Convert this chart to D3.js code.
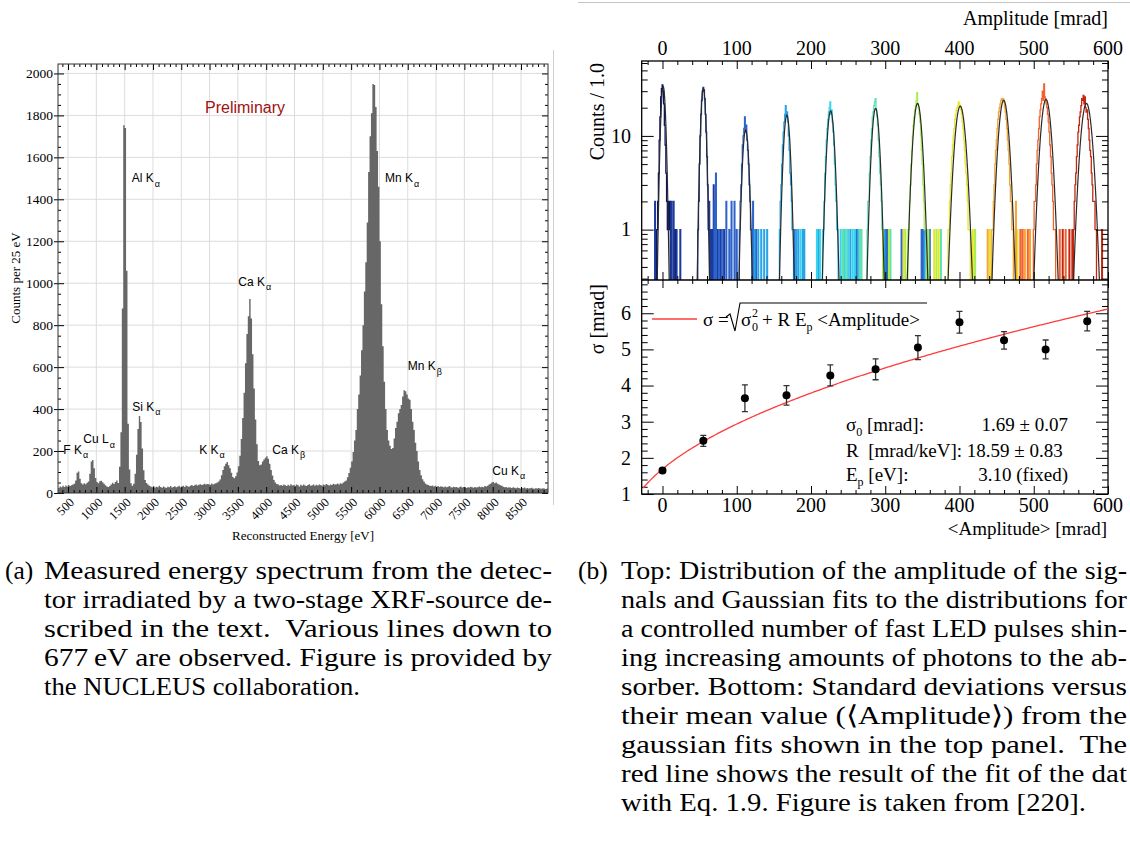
<!DOCTYPE html>
<html lang="en">
<head>
<meta charset="UTF-8">
<title>XRF spectrum and LED amplitude calibration</title>
<style>
  body { margin: 0; background: #fff; }
  svg text { font-family: "Liberation Serif", "Times New Roman", serif; fill: #000; }
  svg .sans { font-family: "Liberation Sans", Arial, sans-serif; }
  .tick line { stroke: #000; }
</style>
</head>
<body>
<script src="https://cdnjs.cloudflare.com/ajax/libs/d3/7.8.5/d3.min.js"></script>
<script>
// ---------------- (a) XRF spectrum data, counts per 25 eV bin ----------------
const binStart = 325;
const binWidth = 25;
const counts = [
  24, 31, 27, 35, 29, 36, 31, 38, 33, 37, 41,            // 325-575
  44, 60, 96, 102, 68, 47,                               // F Ka
  40, 46, 42, 49, 55,
  92, 150, 157, 118, 72, 52,                             // Cu La
  46, 56, 58, 51, 44, 37, 31, 29, 33, 41, 49, 43, 52, 60, 48,
  125, 290, 880, 1753, 1740, 1060, 330, 112, 46, 34, 44, // Al Ka
  92, 182, 305, 367, 338, 212, 108, 62, 48, 40,          // Si Ka
  35, 31, 28, 33, 26, 30, 27, 34, 29, 25, 31, 28, 24, 30, 27, 33, 26, 29, 32, 27,
  30, 35, 28, 31, 34, 29, 36, 32, 30, 35, 38, 33, 37, 40, 36, 39, 42, 38, 41, 44, 40, 43,
  42, 39, 45, 41, 44, 47, 50, 55, 64,
  85, 110, 128, 140, 148, 132, 118, 96, 76, 70,          // K Ka
  80, 98, 128, 178, 258, 358, 478, 618, 758, 842,        // Ca Ka
  925, 832, 662, 498, 350, 232, 152, 132, 136, 150,
  160, 168, 175, 163, 140, 110, 84, 62, 50, 43,          // Ca Kb
  40, 36, 38, 34, 41, 37, 33, 39, 35, 42, 36, 38, 34, 40, 37, 31, 39, 35, 41, 36,
  33, 38, 42, 35, 37, 40, 34, 39, 36, 41, 38, 35, 40, 37, 43, 39, 36, 41, 38, 44,
  40, 42, 45, 41, 47, 44, 50, 55,
  60, 75, 95, 120, 150, 195, 250, 300, 400, 470,         // Mn Ka
  560, 680, 800, 960, 1100, 1290, 1530, 1700, 1810, 1950,
  1945, 1840, 1630, 1460, 1200, 900, 700, 530, 400, 300,
  250, 225, 210, 215, 260, 310, 340, 380, 400, 420,      // Mn Kb
  460, 490, 485, 470, 450, 445, 400, 340, 300, 240,
  200, 150, 110, 85, 65, 55, 45, 40,
  38, 35, 33, 36, 31, 34, 30, 33, 29, 32, 30, 28, 31, 27, 30, 33, 28, 26, 30, 27,
  29, 25, 28, 31, 26, 29, 27, 24, 28, 26, 30, 27, 25, 29, 26, 28, 31, 27, 30, 28, 33, 31,
  35, 40, 44, 50, 52, 47, 50, 44, 40, 37, 34,            // Cu Ka
  30, 27, 29, 25, 28, 26, 24, 27, 25, 23, 26, 24, 22, 25, 23, 26, 22, 24, 21, 23,
  25, 22, 20, 23, 21, 24, 22, 20, 23, 21, 19, 22
];
const energyTicks = d3.range(500, 9000, 500);
const countTicks = d3.range(0, 2001, 200);

// line annotations: name, subscript, anchor energy [eV], anchor counts
const lineName = ['Al K', 'Mn K', 'Ca K', 'Si K', 'F K', 'Cu L', 'K K', 'Ca K', 'Mn K', 'Cu K'];
const lineSub  = ['α', 'α', 'α', 'α', 'α', 'α', 'α', 'β', 'β', 'α'];
const lineE    = [1624, 6098, 3507, 1635, 417, 770, 2818, 4108, 6499, 7993];
const lineC    = [1482, 1482, 987, 391, 186, 238, 186, 186, 586, 86];

// ---------------- (b) LED amplitude data ----------------
const ampTicks = d3.range(0, 601, 100);
const palette = ['#0c1466', '#1b3a9c', '#2e63c9', '#27a3e6', '#38d3ec', '#5ee2b0',
                 '#a7ef4c', '#e6e62a', '#f5a532', '#f2622e', '#c6260e'];
const peakStart = [-7, 48, 104, 158, 216, 276, 331, 385, 444, 500, 554];
const peakCounts = [
  [1, 2, 4, 9, 16, 26, 32, 35, 30, 22, 13, 8, 4, 2, 1, 2, 1],
  [1, 2, 5, 10, 17, 24, 30, 33, 31, 25, 17, 11, 6, 3, 1],
  [1, 2, 3, 5, 8, 10, 12, 16, 11, 13, 9, 7, 5, 3, 2, 1, 1],
  [1, 2, 3, 5, 8, 11, 14, 17, 21, 16, 18, 14, 10, 7, 4, 3, 2, 1, 1],
  [1, 1, 2, 4, 6, 9, 12, 15, 18, 20, 23, 17, 19, 14, 11, 8, 5, 3, 2, 1, 1],
  [1, 2, 2, 4, 6, 9, 12, 16, 18, 21, 23, 25, 19, 16, 13, 9, 6, 4, 3, 2, 1],
  [1, 1, 2, 3, 5, 7, 10, 13, 16, 19, 21, 24, 29, 22, 20, 17, 14, 10, 7, 5, 3, 2, 1, 1, 1],
  [1, 1, 2, 3, 4, 6, 8, 10, 12, 15, 17, 19, 20, 21, 23, 22, 21, 19, 17, 14, 12, 9, 7, 5, 4, 3, 2, 1, 1, 1],
  [1, 1, 2, 3, 5, 7, 9, 12, 15, 18, 20, 22, 24, 25, 24, 25, 23, 20, 18, 15, 12, 9, 7, 5, 3, 2, 2, 1, 1],
  [1, 2, 2, 3, 5, 7, 9, 12, 16, 19, 22, 25, 30, 24, 36, 26, 25, 22, 20, 17, 14, 11, 8, 6, 4, 3, 2, 1, 1, 1],
  [1, 2, 3, 4, 6, 8, 11, 13, 16, 18, 21, 25, 24, 27, 22, 26, 20, 18, 19, 15, 12, 9, 7, 6, 4, 3, 2, 2, 2, 1, 1]
];
// isolated low-count bins: [amplitude bin, counts, histogram]
const noise = [
  [-10, 2, 1], [-9, 1, 0], [10, 2, 0], [12, 2, 1], [15, 2, 1], [17, 1, 0], [19, 1, 1], [24, 1, 1],
  [63, 2, 1], [65, 1, 1], [67, 1, 1], [69, 3, 1], [70, 2, 2], [72, 4, 2], [74, 1, 1], [76, 1, 2],
  [78, 1, 1], [80, 1, 2], [83, 1, 1], [86, 2, 2], [90, 1, 2], [93, 2, 2], [97, 2, 2], [100, 1, 2],
  [122, 2, 2], [124, 1, 3], [126, 1, 2], [129, 1, 3], [133, 1, 3], [137, 1, 3], [141, 1, 3],
  [178, 1, 2], [180, 1, 3], [183, 1, 3], [186, 1, 4], [189, 1, 3], [191, 1, 3],
  [208, 1, 4], [210, 1, 3], [212, 1, 4],
  [240, 1, 4], [243, 1, 5], [245, 1, 4], [247, 1, 5], [250, 1, 4], [253, 1, 3], [256, 1, 4],
  [259, 1, 4], [261, 1, 2], [263, 1, 3], [266, 1, 5], [268, 1, 5],
  [294, 1, 5], [297, 1, 6], [299, 1, 3], [301, 1, 2], [303, 1, 2], [305, 1, 6], [307, 1, 5],
  [322, 1, 2], [325, 1, 7], [327, 1, 6],
  [349, 1, 2], [351, 1, 2], [353, 1, 3], [356, 1, 2], [358, 1, 6], [360, 1, 2],
  [366, 1, 7], [369, 1, 6], [372, 1, 7], [375, 1, 5], [418, 1, 7], [421, 1, 6],
  [438, 1, 8], [441, 1, 7], [476, 2, 8], [478, 1, 7],
  [482, 1, 9], [485, 1, 9], [488, 1, 8], [492, 1, 9], [495, 1, 8],
  [535, 1, 9], [539, 1, 10], [543, 1, 9], [548, 1, 10], [552, 1, 10], [592, 1, 10]
];
// gaussian fits drawn over each distribution
const fitMean  = [1, 55, 112, 167.5, 226.5, 287, 343.5, 401, 459.5, 516.5, 571];
const fitAmp   = [33.5, 32, 11.6, 16.7, 18.5, 19.7, 22.2, 20.8, 24, 24.5, 22.2];
const fitSigma = [2.6, 2.7, 3.3, 3.5, 3.9, 4.0, 4.7, 5.6, 5.3, 5.5, 5.9];

// bottom panel: sigma vs <Amplitude>
const ampMean  = [0, 55, 111, 167, 226, 287, 344, 400, 460, 516, 572];
const sigma    = [1.65, 2.47, 3.65, 3.73, 4.28, 4.45, 5.05, 5.75, 5.25, 5.0, 5.78];
const sigmaErr = [0.06, 0.15, 0.37, 0.27, 0.29, 0.29, 0.33, 0.30, 0.24, 0.26, 0.27];
const sigma0 = 1.69, rPar = 18.59, epPar = 3.10;   // fit result shown in the box
const sigmaTicks = [1, 2, 3, 4, 5, 6];

// captions
const captionA = [
  'Measured energy spectrum from the detec-',
  'tor irradiated by a two-stage XRF-source de-',
  'scribed in the text.  Various lines down to',
  '677\u2009eV are observed. Figure is provided by',
  'the NUCLEUS collaboration.'
];
const captionB = [
  'Top: Distribution of the amplitude of the sig-',
  'nals and Gaussian fits to the distributions for',
  'a controlled number of fast LED pulses shin-',
  'ing increasing amounts of photons to the ab-',
  'sorber. Bottom: Standard deviations versus',
  'their mean value (\u27E8Amplitude\u27E9) from the',
  'gaussian fits shown in the top panel.  The',
  'red line shows the result of the fit of the dat',
  'with Eq. 1.9. Figure is taken from [220].'
];

const svg = d3.select('body').append('svg')
  .attr('width', 1130).attr('height', 844)
  .style('background', '#fff');

function tickRow(g, axis, values, size) {
  g.call(axis.tickValues(values).tickSize(size).tickFormat(''))
    .call(s => s.select('.domain').remove());
}

// ================= panel (a) =================
const xL = d3.scaleLinear().domain([323, 8977]).range([58, 548]);
const yL = d3.scaleLinear().domain([0, 2045]).range([493, 64]);

svg.append('clipPath').attr('id', 'clipL').append('rect')
  .attr('x', 58).attr('y', 64).attr('width', 490).attr('height', 429);

const left = svg.append('g');

left.selectAll('line.gx').data(energyTicks).join('line').attr('class', 'gx')
  .attr('x1', d => xL(d)).attr('x2', d => xL(d)).attr('y1', 64).attr('y2', 493)
  .attr('stroke', '#dcdcdc');
left.selectAll('line.gy').data(countTicks.slice(1)).join('line').attr('class', 'gy')
  .attr('x1', 58).attr('x2', 548).attr('y1', d => yL(d)).attr('y2', d => yL(d))
  .attr('stroke', '#dcdcdc');

const bins = counts.map((c, i) => ({ e: binStart + i * binWidth, c }));
bins.push({ e: binStart + counts.length * binWidth, c: counts[counts.length - 1] });
const area = d3.area().x(d => xL(d.e)).y0(yL(0)).y1(d => yL(d.c)).curve(d3.curveStepAfter);
left.append('path').datum(bins).attr('d', area)
  .attr('fill', '#676767').attr('clip-path', 'url(#clipL)');

const eMinor = d3.range(400, 9000, 100).filter(v => v % 500);
const cMinor = d3.range(50, 2045, 50).filter(v => v % 200);
tickRow(left.append('g').attr('transform', 'translate(0,493)'), d3.axisBottom(xL), eMinor, -3);
tickRow(left.append('g').attr('transform', 'translate(0,493)'), d3.axisBottom(xL), energyTicks, -6);
tickRow(left.append('g').attr('transform', 'translate(0,64)'), d3.axisTop(xL), eMinor, -3);
tickRow(left.append('g').attr('transform', 'translate(0,64)'), d3.axisTop(xL), energyTicks, -6);
tickRow(left.append('g').attr('transform', 'translate(58,0)'), d3.axisLeft(yL), cMinor, -3);
tickRow(left.append('g').attr('transform', 'translate(58,0)'), d3.axisLeft(yL), countTicks, -6);
tickRow(left.append('g').attr('transform', 'translate(58,0)'), d3.axisLeft(yL), countTicks, 4);
tickRow(left.append('g').attr('transform', 'translate(548,0)'), d3.axisRight(yL), cMinor, -3);
tickRow(left.append('g').attr('transform', 'translate(548,0)'), d3.axisRight(yL), countTicks, -6);
left.selectAll('.tick line').attr('stroke', '#333');

left.append('rect').attr('x', 58).attr('y', 64).attr('width', 490).attr('height', 429)
  .attr('fill', 'none').attr('stroke', '#333').attr('stroke-width', 1);

left.selectAll('text.yl').data(countTicks).join('text').attr('class', 'yl')
  .attr('x', 53).attr('y', d => yL(d)).attr('dy', '0.35em')
  .attr('text-anchor', 'end').attr('font-size', 13.5).text(d => d);
left.selectAll('text.xl').data(energyTicks).join('text').attr('class', 'xl')
  .attr('transform', d => `translate(${xL(d) + 7},${503}) rotate(-45)`)
  .attr('text-anchor', 'end').attr('font-size', 12.5).text(d => d);

left.append('text').attr('x', 303).attr('y', 540).attr('text-anchor', 'middle')
  .attr('font-size', 13).text('Reconstructed Energy [eV]');
left.append('text').attr('transform', 'translate(20,278) rotate(-90)')
  .attr('text-anchor', 'middle').attr('font-size', 13).text('Counts per 25 eV');

left.append('text').attr('class', 'sans').attr('x', xL(2919)).attr('y', yL(1811))
  .attr('font-size', 16).style('fill', '#9e1111').text('Preliminary');

lineName.forEach((name, i) => {
  const t = left.append('text').attr('class', 'sans')
    .attr('x', xL(lineE[i])).attr('y', yL(lineC[i])).attr('font-size', 12);
  t.append('tspan').text(name);
  t.append('tspan').attr('dy', 4.5).attr('dx', 1).attr('font-size', 9).text(lineSub[i]);
});

// thin border of the sub-figure image
svg.append('line').attr('x1', 553.5).attr('x2', 553.5).attr('y1', 50).attr('y2', 505)
  .attr('stroke', '#d0d0d0');

// ================= panel (b) =================
const xR = d3.scaleLinear().domain([-28, 600]).range([641.7, 1108]);
const yTop = d3.scaleLog().domain([0.29, 63]).range([280, 61]);
const yBot = d3.scaleLinear().domain([1, 6.92]).range([494, 280]);
const right = svg.append('g');

svg.append('line').attr('x1', 578).attr('x2', 1130).attr('y1', 2.5).attr('y2', 2.5)
  .attr('stroke', '#c4c4c4');

svg.append('clipPath').attr('id', 'clipT').append('rect')
  .attr('x', 641.7).attr('y', 61).attr('width', 466.3).attr('height', 219);
svg.append('clipPath').attr('id', 'clipB').append('rect')
  .attr('x', 641.7).attr('y', 280).attr('width', 466.3).attr('height', 214);

// top panel: amplitude histograms (step outlines, empty bins drop to the bottom)
const hist = right.append('g').attr('clip-path', 'url(#clipT)');
const base = 282;
peakCounts.forEach((arr, k) => {
  const m = new Map();
  arr.forEach((n, j) => m.set(peakStart[k] + j, n));
  noise.filter(d => d[2] === k).forEach(d => m.set(d[0], Math.max(m.get(d[0]) || 0, d[1])));
  const keys = [...m.keys()].sort((a, b) => a - b);
  const p = d3.path();
  let prev = null;
  keys.forEach(b => {
    const y = yTop(m.get(b));
    if (prev === b - 1) p.lineTo(xR(b - 0.5), y);
    else {
      if (prev !== null) p.lineTo(xR(prev + 0.5), base);
      p.moveTo(xR(b - 0.5), base);
      p.lineTo(xR(b - 0.5), y);
    }
    p.lineTo(xR(b + 0.5), y);
    prev = b;
  });
  p.lineTo(xR(prev + 0.5), base);
  hist.append('path').attr('d', p.toString()).attr('fill', 'none')
    .attr('stroke', palette[k]).attr('stroke-width', 1.3);
});

const gaussLine = d3.line().x(d => xR(d[0])).y(d => yTop(Math.max(d[1], 0.2)));
fitMean.forEach((mu, k) => {
  const s = fitSigma[k];
  const pts = d3.range(mu - 4 * s, mu + 4 * s + 0.01, 0.25)
    .map(a => [a, fitAmp[k] * Math.exp(-0.5 * ((a - mu) / s) ** 2)]);
  hist.append('path').datum(pts).attr('d', gaussLine)
    .attr('fill', 'none').attr('stroke', '#2a2a2a').attr('stroke-width', 1.2);
});

// axes of the top panel
const aMinor = d3.range(-20, 601, 20).filter(v => v % 100);
const logMinor = [0.3, 0.4, 0.5, 0.6, 0.7, 0.8, 0.9, 2, 3, 4, 5, 6, 7, 8, 9, 20, 30, 40, 50, 60];
const sMinor = d3.range(1.2, 6.92, 0.2).filter(v => Math.abs(v - Math.round(v)) > 0.05);

tickRow(right.append('g').attr('transform', 'translate(0,61)'), d3.axisTop(xR), aMinor, -4);
tickRow(right.append('g').attr('transform', 'translate(0,61)'), d3.axisTop(xR), ampTicks, -8);
tickRow(right.append('g').attr('transform', 'translate(0,280)'), d3.axisBottom(xR), aMinor, -4);
tickRow(right.append('g').attr('transform', 'translate(0,280)'), d3.axisBottom(xR), ampTicks, -8);
tickRow(right.append('g').attr('transform', 'translate(641.7,0)'), d3.axisLeft(yTop), logMinor, -6);
tickRow(right.append('g').attr('transform', 'translate(641.7,0)'), d3.axisLeft(yTop), [1, 10], -12);
tickRow(right.append('g').attr('transform', 'translate(1108,0)'), d3.axisRight(yTop), logMinor, -6);
tickRow(right.append('g').attr('transform', 'translate(1108,0)'), d3.axisRight(yTop), [1, 10], -12);

// axes of the bottom panel
tickRow(right.append('g').attr('transform', 'translate(0,280)'), d3.axisTop(xR), aMinor, -4);
tickRow(right.append('g').attr('transform', 'translate(0,280)'), d3.axisTop(xR), ampTicks, -8);
tickRow(right.append('g').attr('transform', 'translate(0,494)'), d3.axisBottom(xR), aMinor, -4);
tickRow(right.append('g').attr('transform', 'translate(0,494)'), d3.axisBottom(xR), ampTicks, -8);
tickRow(right.append('g').attr('transform', 'translate(641.7,0)'), d3.axisLeft(yBot), sMinor, -6);
tickRow(right.append('g').attr('transform', 'translate(641.7,0)'), d3.axisLeft(yBot), sigmaTicks, -12);
tickRow(right.append('g').attr('transform', 'translate(1108,0)'), d3.axisRight(yBot), sMinor, -6);
tickRow(right.append('g').attr('transform', 'translate(1108,0)'), d3.axisRight(yBot), sigmaTicks, -12);

right.append('rect').attr('x', 641.7).attr('y', 61).attr('width', 466.3).attr('height', 433)
  .attr('fill', 'none').attr('stroke', '#000').attr('stroke-width', 1.3);
right.append('line').attr('x1', 641.7).attr('x2', 1108).attr('y1', 280).attr('y2', 280)
  .attr('stroke', '#000').attr('stroke-width', 1.3);

right.selectAll('text.tx').data(ampTicks).join('text').attr('class', 'tx')
  .attr('x', d => xR(d)).attr('y', 55).attr('text-anchor', 'middle')
  .attr('font-size', 20).text(d => d);
right.selectAll('text.bx').data(ampTicks).join('text').attr('class', 'bx')
  .attr('x', d => xR(d)).attr('y', 512).attr('text-anchor', 'middle')
  .attr('font-size', 20).text(d => d);
right.selectAll('text.ty').data([1, 10]).join('text').attr('class', 'ty')
  .attr('x', 631).attr('y', d => yTop(d)).attr('dy', '0.34em').attr('text-anchor', 'end')
  .attr('font-size', 20).text(d => d);
right.selectAll('text.by').data(sigmaTicks).join('text').attr('class', 'by')
  .attr('x', 631).attr('y', d => yBot(d)).attr('dy', '0.34em').attr('text-anchor', 'end')
  .attr('font-size', 20).text(d => d);

right.append('text').attr('x', 1108).attr('y', 25).attr('text-anchor', 'end')
  .attr('font-size', 20).text('Amplitude [mrad]');
right.append('text').attr('x', 1107).attr('y', 535).attr('text-anchor', 'end')
  .attr('font-size', 19).text('<Amplitude> [mrad]');
right.append('text').attr('transform', 'translate(604,63) rotate(-90)').attr('text-anchor', 'end')
  .attr('font-size', 20).text('Counts / 1.0');
right.append('text').attr('transform', 'translate(604,284) rotate(-90)').attr('text-anchor', 'end')
  .attr('font-size', 20).text('σ [mrad]');

// bottom panel: fit curve and points
const fitLine = d3.line().x(d => xR(d)).y(d => yBot(Math.sqrt(sigma0 * sigma0 + rPar * epPar / 1000 * d)));
const lower = right.append('g').attr('clip-path', 'url(#clipB)');
lower.append('path').datum(d3.range(-26, 600.5, 2)).attr('d', fitLine)
  .attr('fill', 'none').attr('stroke', '#ff3b3b').attr('stroke-width', 1.3);

const pts = ampMean.map((a, i) => ({ a, s: sigma[i], e: sigmaErr[i] }));
lower.selectAll('line.eb').data(pts).join('line').attr('class', 'eb')
  .attr('x1', d => xR(d.a)).attr('x2', d => xR(d.a))
  .attr('y1', d => yBot(d.s - d.e)).attr('y2', d => yBot(d.s + d.e))
  .attr('stroke', '#333').attr('stroke-width', 1.3);
[-1, 1].forEach(sg => {
  lower.selectAll(`line.cap${sg}`).data(pts).join('line').attr('class', `cap${sg}`)
    .attr('x1', d => xR(d.a) - 3).attr('x2', d => xR(d.a) + 3)
    .attr('y1', d => yBot(d.s + sg * d.e)).attr('y2', d => yBot(d.s + sg * d.e))
    .attr('stroke', '#333').attr('stroke-width', 1.3);
});
lower.selectAll('circle').data(pts).join('circle')
  .attr('cx', d => xR(d.a)).attr('cy', d => yBot(d.s)).attr('r', 4).attr('fill', '#000');

// legend with the fit formula
right.append('line').attr('x1', 652).attr('x2', 697).attr('y1', 319).attr('y2', 319)
  .attr('stroke', '#ff3b3b').attr('stroke-width', 1.3);
right.append('text').attr('x', 703).attr('y', 326).attr('font-size', 19).text('σ =');
right.append('path').attr('d', 'M726,317 L730,314 L735,331 L740,303 L927,303')
  .attr('fill', 'none').attr('stroke', '#000').attr('stroke-width', 1.1);
right.append('text').attr('x', 741).attr('y', 326).attr('font-size', 19).text('σ');
right.append('text').attr('x', 752).attr('y', 317).attr('font-size', 12).text('2');
right.append('text').attr('x', 752).attr('y', 331).attr('font-size', 12).text('0');
const formula = right.append('text').attr('x', 762).attr('y', 326).attr('font-size', 19);
formula.append('tspan').text('+ R E');
formula.append('tspan').attr('dy', 5).attr('font-size', 12).text('p');
formula.append('tspan').attr('dy', -5).text(' <Amplitude>');

// fit result box
const parY = [431, 457, 481];
const parName = right.append('g').attr('font-size', 19);
const n0 = parName.append('text').attr('x', 846).attr('y', parY[0]);
n0.append('tspan').text('σ');
n0.append('tspan').attr('dy', 5).attr('font-size', 12).text('0');
n0.append('tspan').attr('dy', -5).text(' [mrad]:');
parName.append('text').attr('x', 846).attr('y', parY[1]).attr('xml:space', 'preserve')
  .text('R  [mrad/keV]: 18.59 ± 0.83');
const n2 = parName.append('text').attr('x', 846).attr('y', parY[2]);
n2.append('tspan').text('E');
n2.append('tspan').attr('dy', 5).attr('font-size', 12).text('p');
n2.append('tspan').attr('dy', -5).text(' [eV]:');
parName.append('text').attr('x', 1068).attr('y', parY[0]).attr('text-anchor', 'end')
  .text(`${sigma0.toFixed(2)} ± 0.07`);
parName.append('text').attr('x', 1068).attr('y', parY[2]).attr('text-anchor', 'end')
  .text(`${epPar.toFixed(2)} (fixed)`);

// ================= captions =================
function caption(label, lx, x0, width, lines, lastWidth) {
  const g = svg.append('g').attr('font-size', 25.5);
  g.append('text').attr('x', lx).attr('y', 579).text(label);
  lines.forEach((t, i) => {
    g.append('text').attr('x', x0).attr('y', 579 + 29 * i)
      .attr('textLength', i === lines.length - 1 ? lastWidth : width)
      .attr('lengthAdjust', 'spacingAndGlyphs')
      .attr('xml:space', 'preserve').text(t);
  });
}
caption('(a)', 5, 44, 508, captionA, 316);
caption('(b)', 578, 621, 506, captionB, 465);
</script>
</body>
</html>
